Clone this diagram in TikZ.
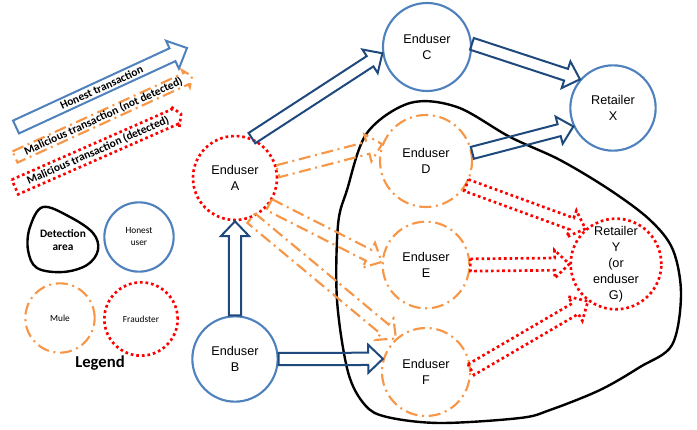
\documentclass[tikz,border=0pt]{standalone}
\usepackage{fontspec}
\setmainfont{Liberation Sans}
\newfontfamily\legendfont{Carlito}
\usetikzlibrary{calc}

\definecolor{userblue}{RGB}{79,129,189}
\definecolor{arrowblue}{RGB}{31,73,125}
\definecolor{muleorange}{RGB}{247,150,70}
\definecolor{fraudred}{RGB}{255,0,0}

\tikzset{
	bodyw/.store in=\tbodyw, bodyw=4.6pt,
	headw/.store in=\theadw, headw=10.5pt,
	headl/.store in=\theadl, headl=11pt,
	user/.style={circle, inner sep=0pt, align=center, font=\fontsize{9.5}{12}\selectfont},
	honestuser/.style={user, draw=userblue, line width=1.6pt},
	fraudster/.style={user, draw=fraudred, line width=2pt, dash pattern=on 2pt off 2.2pt},
	mule/.style={user, draw=muleorange, line width=1.6pt, dash pattern=on 9pt off 3.5pt on 1.5pt off 3.5pt},
	honest/.style={draw=arrowblue, line width=1.5pt},
	notdet/.style={draw=muleorange, line width=1.6pt, dash pattern=on 9pt off 3.5pt on 1.5pt off 3.5pt},
	det/.style={draw=fraudred, line width=2pt, dash pattern=on 2pt off 2.2pt},
	detection/.style={draw=black, line width=1.8pt},
	transtext/.style={font=\legendfont\bfseries\fontsize{8.6}{9}\selectfont, inner sep=0pt},
	legendtext/.style={align=center, inner sep=0pt, font=\legendfont\fontsize{7}{9}\selectfont}
}

\newcommand\transarrow[4][]{%
	\draw[#1] let \p1=(#2), \p2=(#3), \n1={atan2(\y2-\y1,\x2-\x1)} in
	($(\p1)+(\n1+90:\tbodyw)$)
	-- ($(\p2)+(\n1+180:\theadl)+(\n1+90:\tbodyw)$)
	-- ($(\p2)+(\n1+180:\theadl)+(\n1+90:\theadw)$)
	-- (\p2)
	-- ($(\p2)+(\n1+180:\theadl)+(\n1-90:\theadw)$)
	-- ($(\p2)+(\n1+180:\theadl)+(\n1-90:\tbodyw)$)
	-- ($(\p1)+(\n1-90:\tbodyw)$) -- cycle
	($(\p1)!0.5!(\p2)$) node[rotate=\n1, transtext] {#4};}

\begin{document}
\begin{tikzpicture}[x=0.75pt, y=-0.75pt]
		\useasboundingbox (0,0) rectangle (697,429);
		\draw[detection] plot[smooth cycle, tension=0.55] coordinates {(367,133) (410,103) (457,107) (510,137) (560,160) (610,190) (650,220) (673,250) (681,295) (672,345) (640,367) (600,390) (550,410) (520,418) (440,423) (387,417) (365,405) (348,372) (337,300) (338,225) (347,190)};
		\node[fraudster, minimum size=63pt] (A) at (235,178) {Enduser\\A};
		\node[honestuser, minimum size=64pt] (B) at (235,359) {Enduser\\B};
		\node[honestuser, minimum size=66pt] (C) at (427,47) {Enduser\\C};
		\node[mule, minimum size=69pt] (D) at (426,161) {Enduser\\D};
		\node[mule, minimum size=65pt] (E) at (426,265) {Enduser\\E};
		\node[mule, minimum size=66pt] (F) at (426,372) {Enduser\\F};
		\node[honestuser, minimum size=64pt] (X) at (613,108) {Retailer\\X};
		\node[fraudster, minimum size=68pt] (Y) at (616,264) {Retailer\\Y\\(or\\enduser\\G)};
		\transarrow[honest]{A.67}{C.188}{}
		\transarrow[honest]{C.4}{X.139}{}
		\transarrow[honest]{D.10}{X.205}{}
		\transarrow[honest]{B.north}{A.south}{}
		\transarrow[honest]{B.east}{F.163}{}
		\transarrow[notdet]{A.9}{D.159}{}
		\transarrow[notdet]{A.-38}{E.176}{}
		\transarrow[notdet]{A.-68}{F.132}{}
		\transarrow[det]{D.-31}{Y.131}{}
		\transarrow[det]{E.east}{Y.west}{}
		\transarrow[det]{F.3}{Y.233}{}
		\coordinate (honest-s) at (16,127);
		\coordinate (honest-e) at (187,48);
		\coordinate (notdet-s) at (15,157);
		\coordinate (notdet-e) at (192,76);
		\coordinate (det-s) at (15,187);
		\coordinate (det-e) at (181,114);
		\transarrow[honest, draw=userblue, bodyw=5.3pt, headw=11.5pt, headl=12pt]{honest-s}{honest-e}{Honest transaction}
		\transarrow[notdet, bodyw=4.6pt, headw=7pt, headl=5pt]{notdet-s}{notdet-e}{Malicious transaction (not detected)}
		\transarrow[det, bodyw=6pt, headw=8.5pt, headl=5pt]{det-s}{det-e}{Malicious transaction (detected)}
		\draw[detection] plot[smooth cycle, tension=0.6] coordinates {(43,207) (70,217) (93,233) (98,250) (87,265) (63,272) (37,268) (28,250) (30,227)};
		\node[legendtext, font=\legendfont\bfseries\fontsize{8.5}{10}\selectfont] (legdet) at (63,240) {Detection\\area};
		\node[honestuser, legendtext, minimum size=52pt] (leghonest) at (139,237) {Honest\\user};
		\node[mule, legendtext, minimum size=52pt] (legmule) at (60,318) {Mule};
		\node[fraudster, legendtext, minimum size=55pt] (legfraud) at (141,319) {Fraudster};
		\node[font=\legendfont\bfseries\fontsize{12.5}{14}\selectfont] (legend) at (100,363) {Legend};
\end{tikzpicture}
\end{document}
